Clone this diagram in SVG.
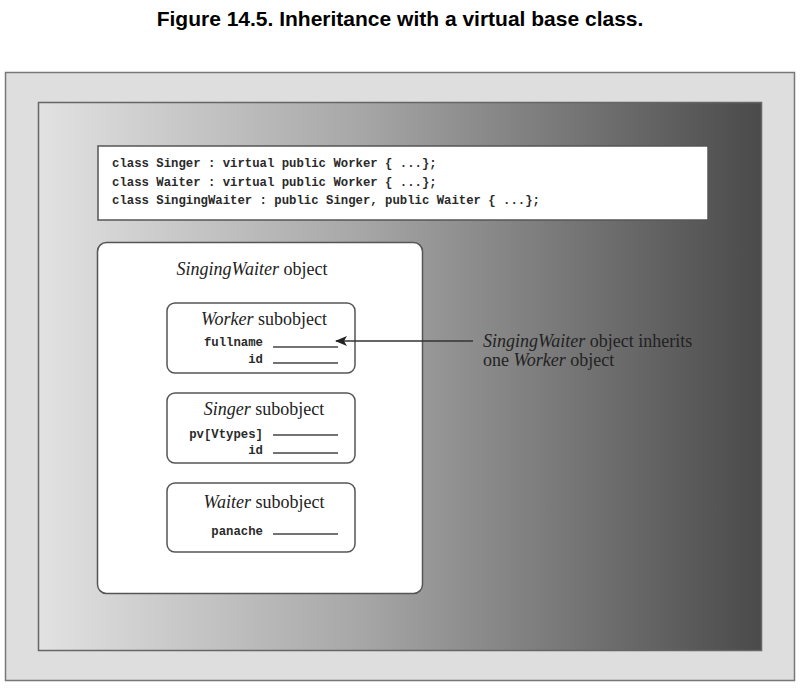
<svg xmlns="http://www.w3.org/2000/svg" width="805" height="696" viewBox="0 0 805 696">
<defs>
<linearGradient id="bg" x1="0" y1="0" x2="1" y2="0">
<stop offset="0" stop-color="#e2e2e2"/>
<stop offset="0.45" stop-color="#a6a6a6"/>
<stop offset="1" stop-color="#4a4a4a"/>
</linearGradient>
<marker id="ah" markerWidth="12" markerHeight="10" refX="11" refY="5" orient="auto" markerUnits="userSpaceOnUse">
<path d="M0,0 L12,5 L0,10 L3,5 Z" fill="#222"/>
</marker>
</defs>
<style>
.title{font-family:"Liberation Sans",Arial,sans-serif;font-weight:bold;font-size:21px;fill:#000}
.code{font-family:"Liberation Mono","DejaVu Sans Mono",monospace;font-size:12.3px;font-weight:bold;fill:#2a2a2a}
.serif{font-family:"Liberation Serif","Times New Roman",serif;font-size:18px;fill:#222}
.box{fill:#fff;stroke:#555;stroke-width:1.5}
.blank{stroke:#444;stroke-width:1.5}
</style>
<text class="title" x="400" y="26" text-anchor="middle">Figure 14.5. Inheritance with a virtual base class.</text>
<rect x="5.5" y="72.5" width="789" height="608" fill="#dedede" stroke="#777" stroke-width="1.5"/>
<rect x="38.5" y="102.5" width="723" height="548" fill="url(#bg)" stroke="#666" stroke-width="1.5"/>
<g id="code">
<rect x="98" y="146" width="610" height="74" fill="#fff" stroke="#555" stroke-width="1.5"/>
<text class="code" x="112" y="167">class Singer : virtual public Worker { ...};</text>
<text class="code" x="112" y="186">class Waiter : virtual public Worker { ...};</text>
<text class="code" x="112" y="204">class SingingWaiter : public Singer, public Waiter { ...};</text>
</g>
<g id="singingwaiter">
<rect class="box" x="97.5" y="242.5" width="325" height="351" rx="9"/>
<text class="serif" x="252" y="275" text-anchor="middle"><tspan font-style="italic">SingingWaiter</tspan> object</text>
</g>
<g id="worker">
<rect class="box" x="167" y="303" width="188" height="70" rx="8"/>
<text class="serif" x="264" y="325" text-anchor="middle"><tspan font-style="italic">Worker</tspan> subobject</text>
<text class="code" x="263" y="346" text-anchor="end">fullname</text>
<line class="blank" x1="273" y1="347" x2="338" y2="347"/>
<text class="code" x="263" y="363" text-anchor="end">id</text>
<line class="blank" x1="273" y1="363" x2="338" y2="363"/>
</g>
<g id="singer">
<rect class="box" x="167" y="393" width="188" height="70" rx="8"/>
<text class="serif" x="264" y="415" text-anchor="middle"><tspan font-style="italic">Singer</tspan> subobject</text>
<text class="code" x="263" y="438" text-anchor="end">pv[Vtypes]</text>
<line class="blank" x1="273" y1="435" x2="338" y2="435"/>
<text class="code" x="263" y="454" text-anchor="end">id</text>
<line class="blank" x1="273" y1="453" x2="338" y2="453"/>
</g>
<g id="waiter">
<rect class="box" x="167" y="483" width="188" height="69" rx="8"/>
<text class="serif" x="264" y="508" text-anchor="middle"><tspan font-style="italic">Waiter</tspan> subobject</text>
<text class="code" x="263" y="535" text-anchor="end">panache</text>
<line class="blank" x1="273" y1="534" x2="338" y2="534"/>
</g>
<g id="connectors">
<line x1="473" y1="341" x2="336" y2="341" stroke="#333" stroke-width="1.5" marker-end="url(#ah)"/>
</g>
<g id="note">
<text class="serif" x="483" y="347"><tspan font-style="italic">SingingWaiter</tspan> object inherits</text>
<text class="serif" x="483" y="366">one <tspan font-style="italic">Worker</tspan> object</text>
</g>
</svg>
